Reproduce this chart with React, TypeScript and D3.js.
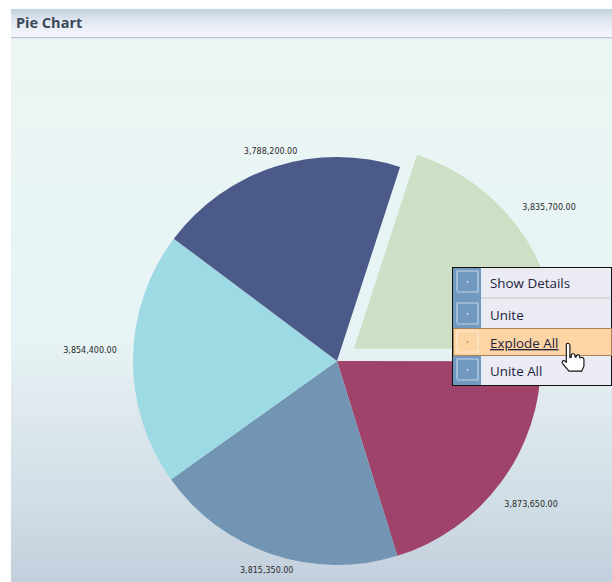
import React from "react";
import * as d3 from "d3";

const sliceNames = ["Green", "Maroon", "Steel", "Cyan", "Navy"];
const sliceValues = [3835700, 3873650, 3815350, 3854400, 3788200];
const sliceLabels = ["3,835,700.00", "3,873,650.00", "3,815,350.00", "3,854,400.00", "3,788,200.00"];
const sliceColors = ["#cddfc4", "url(#maroon)", "#7295b4", "#9ddae4", "#4c5a8a"];
const explodedSlices = ["Green"];
const menuItems = ["Show Details", "Unite", "Explode All", "Unite All"];
const activeItem = "Explode All";

const W = 612, H = 582;
const cx = 337, cy = 361, R = 204, explode = 21;
const deg = Math.PI / 180;

const pie = d3.pie<number>().sort(null).startAngle(18 * deg).endAngle(378 * deg);
const arc = d3.arc<d3.PieArcDatum<number>>().innerRadius(0).outerRadius(R);
const itemY = d3.scaleOrdinal<string, number>().domain(menuItems).range([268, 300, 328, 356]);
const itemH = d3.scaleOrdinal<string, number>().domain(menuItems).range([29, 28, 28, 29]);

export default function App() {
  const arcs = pie(sliceValues);
  return (
    <svg width={W} height={H} viewBox={`0 0 ${W} ${H}`} style={{ position: "absolute", left: 0, top: 0, background: "#fff" }}>
      <defs>
        <linearGradient id="head" x1="0" y1="0" x2="0" y2="1">
          <stop offset="0" stopColor="#c3d0de" />
          <stop offset="0.45" stopColor="#e2e9f2" />
          <stop offset="1" stopColor="#f5f6fb" />
        </linearGradient>
        <linearGradient id="body" x1="0" y1="0" x2="0" y2="1">
          <stop offset="0" stopColor="#ebf5f3" />
          <stop offset="0.55" stopColor="#e7f3f5" />
          <stop offset="0.68" stopColor="#dfe9ee" />
          <stop offset="0.85" stopColor="#d0dee6" />
          <stop offset="1" stopColor="#c3cfdd" />
        </linearGradient>
        <linearGradient id="maroon" gradientUnits="userSpaceOnUse" x1="0" y1="361" x2="0" y2="565">
          <stop offset="0" stopColor="#a0436a" />
          <stop offset="1" stopColor="#8a3b6b" />
        </linearGradient>
      </defs>
      <rect x={11} y={9} width={601} height={28} fill="url(#head)" />
      <rect x={11} y={37} width={601} height={1.5} fill="#b6c3d8" />
      <rect x={11} y={38.5} width={601} height={543.5} fill="url(#body)" />
      <text x={16} y={28} fontFamily="'Open Sans', sans-serif" fontWeight={700} fontSize={14.5} fill="#3a4a58">Pie Chart</text>

      <g>
        {arcs.map((a, i) => {
          const mid = (a.startAngle + a.endAngle) / 2;
          const s = Math.sin(mid), c = Math.cos(mid);
          const off = explodedSlices.includes(sliceNames[i]) ? explode : 0;
          const x0 = cx + off * s, y0 = cy - off * c;
          return (
            <path key={sliceNames[i]} d={arc(a) ?? ""} transform={`translate(${x0},${y0})`} fill={sliceColors[i]} />
          );
        })}
        {arcs.map((a, i) => {
          const mid = (a.startAngle + a.endAngle) / 2;
          const s = Math.sin(mid), c = Math.cos(mid);
          const off = explodedSlices.includes(sliceNames[i]) ? explode : 0;
          const side = Math.abs(s) > 0.5;
          const level = Math.abs(c) <= 0.2;
          const dx = side ? Math.sign(s) * (level ? 27 : 17) : 0;
          const dy = side ? (level ? -8 : -Math.sign(c) * 12) : c < 0 ? 1 : 0;
          const lx = cx + (off + R + 16) * s + dx;
          const ly = cy - (off + R + 16) * c + dy + 3;
          return (
            <text key={sliceLabels[i]} x={lx} y={ly} textAnchor="middle" fontFamily="'DejaVu Sans', sans-serif" fontSize={8} fill="#2a2a2a">{sliceLabels[i]}</text>
          );
        })}
      </g>

      <g>
        <rect x={452.5} y={267.5} width={159} height={118} fill="#ebecf3" stroke="#111" />
        <rect x={453} y={268} width={28} height={117} fill="#7199c0" />
        <line x1={481} x2={610} y1={298} y2={298} stroke="#c6c6c6" />
        {menuItems.map((m) => {
          const y = itemY(m), h = itemH(m), active = m === activeItem;
          return (
            <g key={m}>
              {active && <rect x={453.5} y={y + 0.5} width={158} height={h - 1} fill="#fdd4a4" stroke="#a9825a" />}
              <path d={`M457 ${y + 23}V${y + 3}H478M457 ${y + 24}H478V${y + 3}`} fill="none" stroke={active ? "#fbead6" : "#c7d6e6"} strokeWidth={1.2} />
              <circle cx={467.5} cy={y + 14} r={1} fill={active ? "#b09a86" : "#c9d6e4"} />
              <text x={490} y={y + 20} fontFamily="'Open Sans', sans-serif" fontSize={13.4} fill="#23233f" textDecoration={active ? "underline" : undefined}>{m}</text>
            </g>
          );
        })}
        <g transform="translate(586,372) scale(1.15) translate(-586,-372)">
          <path
            d="M569 347.5c1.6-1 3 0 3 1.6v10.4l1.2-.3v-2.2c1.2-1.4 3-1 3.2.5l.1 1.6 1-.1v-1.2c1.2-1.2 2.8-.8 3 .6l.1 1.2 1-.1c1.4-.5 2.6.4 2.6 1.8v5.6l-2 4.4h-11l-5.5-6.6c-1.2-1.8.4-3.4 2-2.2l1.2 1.2v-14.7c0-.6 0-1.2.1-1.5z"
            fill="#fff"
            stroke="#111"
            strokeWidth={1}
            strokeLinejoin="round"
          />
        </g>
      </g>
    </svg>
  );
}
